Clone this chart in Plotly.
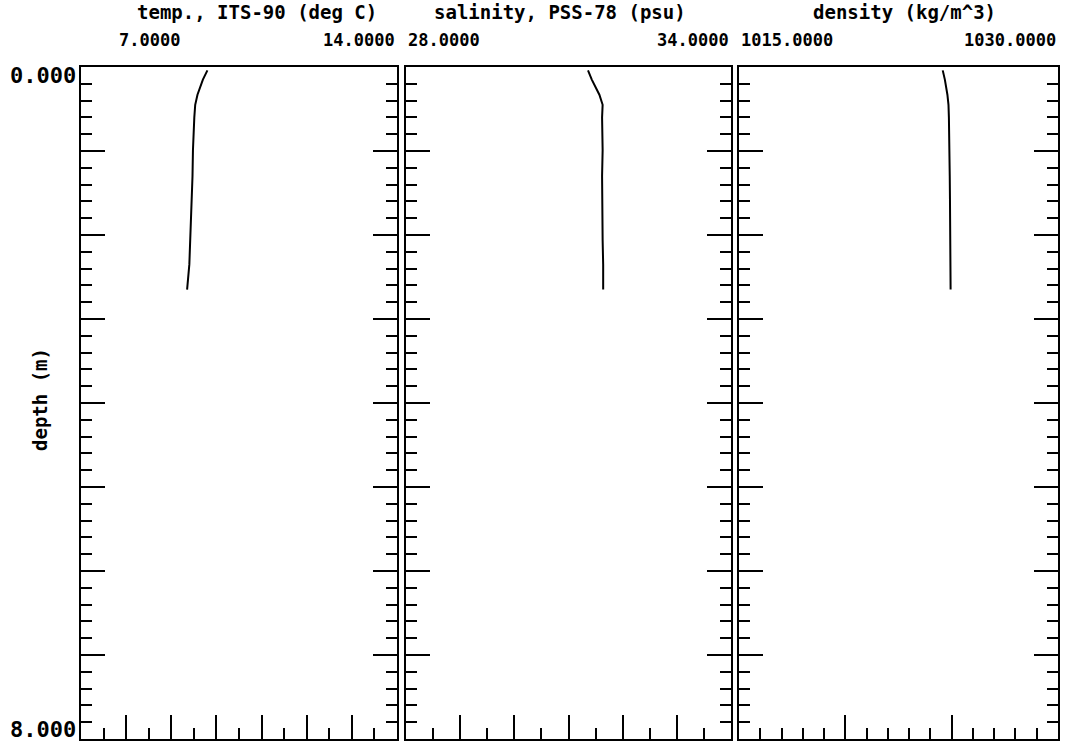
import plotly.graph_objects as go

# ---- data ----
depth_m = [0.04, 0.15, 0.33, 0.45, 0.60, 0.80, 0.99, 1.30, 1.58, 1.85, 2.06, 2.35, 2.65]
temperature_c = [9.80, 9.70, 9.58, 9.53, 9.51, 9.49, 9.48, 9.47, 9.45, 9.44, 9.42, 9.40, 9.35]
salinity_psu = [31.36, 31.43, 31.57, 31.63, 31.62, 31.63, 31.63, 31.62, 31.62, 31.63, 31.63, 31.64, 31.64]
density_kgm3 = [1024.58, 1024.68, 1024.80, 1024.85, 1024.87, 1024.89, 1024.90, 1024.91, 1024.92,
                1024.93, 1024.93, 1024.94, 1024.95]

panel_titles = ["temp., ITS-90 (deg C)", "salinity, PSS-78 (psu)", "density (kg/m^3)"]
x_ranges = [[7.0, 14.0], [28.0, 34.0], [1015.0, 1030.0]]
x_range_labels = [["7.0000", "14.0000"], ["28.0000", "34.0000"], ["1015.0000", "1030.0000"]]
x_major = [1.0, 1.0, 5.0]
x_minor = [0.5, 0.5, 1.0]
depth_range = [8.0, 0.0]
depth_labels = ["0.000", "8.000"]

W, H = 1078, 746
panels_px = [(81, 397), (406, 731), (739, 1058)]
top_px, bot_px = 67, 739
title_cx = [257, 560, 904]
# top-axis tick geometry (pixel position of a reference tick, spacing, major every n)
top_ticks = [(103, 23.4, 2, 1), (445, 26.5, 2, 1), (855, 22.0, 5, 0)]

BASE = dict(family="DejaVu Sans Mono", color="black", weight="bold")

fig = go.Figure()
series = [temperature_c, salinity_psu, density_kgm3]
for i, vals in enumerate(series):
    sfx = "" if i == 0 else str(i + 1)
    fig.add_trace(go.Scatter(x=vals, y=depth_m, mode="lines",
                             line=dict(color="black", width=2),
                             xaxis="x" + sfx, yaxis="y" + sfx, showlegend=False))

layout = dict(width=W, height=H, margin=dict(l=0, r=0, t=0, b=0),
              paper_bgcolor="white", plot_bgcolor="white", showlegend=False)
ydom = [1 - bot_px / H, 1 - top_px / H]
for i in range(3):
    sfx = "" if i == 0 else str(i + 1)
    x0, x1 = panels_px[i]
    dom = [x0 / W, x1 / W]
    layout["xaxis" + sfx] = dict(
        domain=dom, range=x_ranges[i], anchor="y" + sfx,
        tickmode="linear", tick0=x_ranges[i][0], dtick=x_major[i],
        ticks="inside", ticklen=24, tickwidth=2, tickcolor="black",
        minor=dict(dtick=x_minor[i], tick0=x_ranges[i][0], ticks="inside",
                   ticklen=11, tickwidth=2, tickcolor="black", showgrid=False),
        showticklabels=False, showgrid=False, zeroline=False,
        showline=True, linewidth=2, linecolor="black", mirror=True)
    layout["yaxis" + sfx] = dict(
        domain=ydom, range=depth_range, anchor="x" + sfx,
        tickmode="linear", tick0=0, dtick=1,
        ticks="inside", ticklen=24, tickwidth=2, tickcolor="black",
        minor=dict(dtick=0.2, tick0=0, ticks="inside", ticklen=11, tickwidth=2,
                   tickcolor="black", showgrid=False),
        showticklabels=False, showgrid=False, zeroline=False,
        showline=True, linewidth=2, linecolor="black", mirror="ticks")
    ref, step, nmaj, off = top_ticks[i]
    tr = [(x0 - ref) / step, (x1 - ref) / step]
    layout["xaxis" + str(i + 4)] = dict(
        domain=dom, range=tr, anchor="y" + sfx, overlaying="x" + sfx, side="top",
        tickmode="linear", tick0=off, dtick=nmaj,
        ticks="inside", ticklen=24, tickwidth=2, tickcolor="black",
        minor=dict(dtick=1, tick0=0, ticks="inside", ticklen=11, tickwidth=2,
                   tickcolor="black", showgrid=False),
        showticklabels=False, showgrid=False, zeroline=False, showline=False)

fig.update_layout(**layout)

ann = []
for i in range(3):
    x0, x1 = panels_px[i]
    ann.append(dict(text=panel_titles[i], x=title_cx[i] / W, y=1 - 12 / H,
                    xanchor="center", yanchor="middle", font=dict(BASE, size=19)))
    ann.append(dict(text=x_range_labels[i][0], x=(x0 + (36 if i == 0 else 0)) / W, y=1 - 40 / H,
                    xanchor="left", yanchor="middle", font=dict(BASE, size=17)))
    ann.append(dict(text=x_range_labels[i][1], x=x1 / W, y=1 - 40 / H,
                    xanchor="right", yanchor="middle", font=dict(BASE, size=17)))
ann.append(dict(text=depth_labels[0], x=78 / W, y=1 - 76 / H, xanchor="right", yanchor="middle",
                font=dict(BASE, size=22)))
ann.append(dict(text=depth_labels[1], x=78 / W, y=1 - 729 / H, xanchor="right", yanchor="middle",
                font=dict(BASE, size=22)))
ann.append(dict(text="depth (m)", x=40 / W, y=1 - 400 / H, xanchor="center", yanchor="middle",
                textangle=-90, font=dict(BASE, size=19)))
for a in ann:
    a.update(xref="paper", yref="paper", showarrow=False)
fig.update_layout(annotations=ann)

fig.write_html("out.html", config={"displayModeBar": False},
               post_script="document.body.style.margin='0px';")
